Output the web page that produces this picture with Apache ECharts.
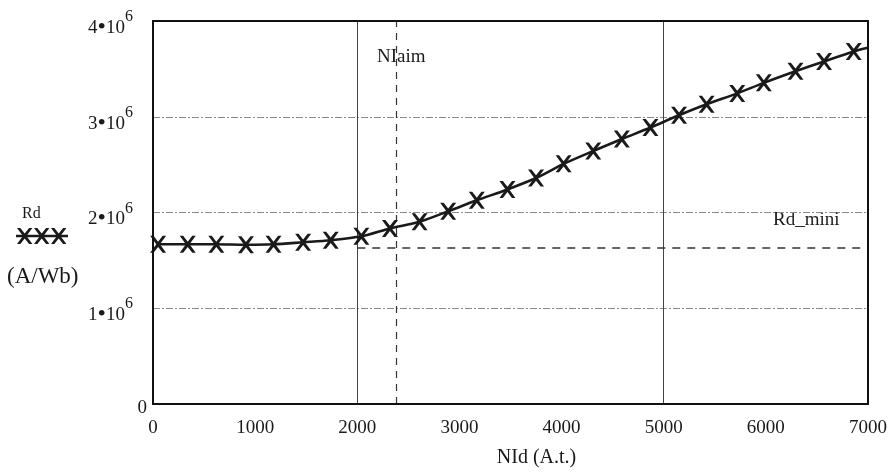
<!DOCTYPE html>
<html><head><meta charset="utf-8">
<script src="https://cdn.jsdelivr.net/npm/echarts@6/dist/echarts.min.js"></script>
<style>html,body{margin:0;padding:0;background:#fff}#c{width:895px;height:473px}</style>
</head><body><div id="c"></div>
<script>
// Data
const nid = [50, 340, 620, 910, 1180, 1470, 1740, 2040, 2320, 2610, 2890, 3170, 3470, 3750, 4020, 4310, 4590, 4870, 5150, 5420, 5720, 5980, 6290, 6570, 6860];
const rd = [1.668e6, 1.668e6, 1.668e6, 1.663e6, 1.668e6, 1.689e6, 1.71e6, 1.751e6, 1.834e6, 1.904e6, 2.013e6, 2.127e6, 2.241e6, 2.36e6, 2.508e6, 2.642e6, 2.767e6, 2.888e6, 3.016e6, 3.13e6, 3.244e6, 3.354e6, 3.475e6, 3.578e6, 3.682e6];
const lineEnd = [7000, 3.72e6];
const xTicks = [0, 1000, 2000, 3000, 4000, 5000, 6000, 7000];
const yTickLabels = ['0', '1', '2', '3', '4'];
const refVertical = [2000, 5000];
const nIaim = 2380;
const rdMini = 1.637e6;
const rdMiniStart = 2000;

const serif = '"Liberation Serif", "DejaVu Serif", serif';
const ink = '#1a1a1a';
const xSym = 'path://M0,0 L3,0 L7,5.5 L11,0 L14,0 L8.6,8 L14,16 L11,16 L7,10.5 L3,16 L0,16 L5.4,8 Z';
const xPoly = [[0,0],[3,0],[7,5.5],[11,0],[14,0],[8.6,8],[14,16],[11,16],[7,10.5],[3,16],[0,16],[5.4,8]];

const chart = echarts.init(document.getElementById('c'));
const pts = nid.map((x, i) => [x, rd[i]]);
chart.setOption({
  animation: false,
  backgroundColor: '#fff',
  grid: { left: 153, right: 27, top: 21, bottom: 66, show: true, borderColor: '#111', borderWidth: 2, backgroundColor: 'transparent', z: 10 },
  xAxis: {
    type: 'value', min: 0, max: 7000, interval: 1000,
    name: 'NId (A.t.)', nameLocation: 'middle', nameGap: 44,
    nameTextStyle: { fontFamily: serif, fontSize: 20, color: ink, padding: [0, 0, 0, 52] },
    axisLine: { show: true, lineStyle: { color: '#111', width: 2 } },
    axisTick: { show: false },
    splitLine: { show: false },
    axisLabel: { fontFamily: serif, fontSize: 19, color: ink, margin: 15, formatter: v => xTicks.includes(v) ? String(v) : '' }
  },
  yAxis: {
    type: 'value', min: 0, max: 4e6, interval: 1e6,
    axisLine: { show: true, lineStyle: { color: '#111', width: 2 } },
    axisTick: { show: false },
    splitLine: { show: true, lineStyle: { color: '#8a8a8a', width: 1, type: [7, 2, 2, 2] } },
    axisLabel: {
      margin: 6,
      formatter: function (v) {
        const k = Math.round(v / 1e6);
        if (k === 0) return '{z|0}';
        return '{a|' + yTickLabels[k] + '}{b|•}{a|10}{s|6}';
      },
      rich: {
        z: { fontFamily: serif, fontSize: 19, color: ink, padding: [8, 0, 0, 0] },
        a: { fontFamily: serif, fontSize: 19, color: ink, padding: [14, 0, 0, 0] },
        b: { fontFamily: serif, fontSize: 24, color: ink, padding: [13, 0, 0, 0] },
        s: { fontFamily: serif, fontSize: 16, color: ink, padding: [0, 14, 8, 0] }
      }
    }
  },
  series: [
    {
      type: 'line',
      data: pts.concat([lineEnd]),
      smooth: 0.3,
      showSymbol: false,
      lineStyle: { color: ink, width: 2.6 },
      z: 5,
      markLine: {
        silent: true, symbol: 'none',
        label: { show: false },
        data: [
          ...refVertical.map(v => ({ xAxis: v, lineStyle: { color: '#444', width: 1, type: 'solid' } })),
          { xAxis: nIaim, lineStyle: { color: '#333', width: 1.2, type: [7, 6] } },
          [{ coord: [rdMiniStart, rdMini], lineStyle: { color: '#333', width: 1.6, type: [8, 7] } }, { coord: [7000, rdMini] }]
        ]
      }
    },
    {
      type: 'scatter',
      data: pts,
      symbol: xSym,
      symbolSize: [16, 17],
      itemStyle: { color: ink, opacity: 1 },
      z: 6
    }
  ],
  graphic: [
    { type: 'text', x: 377, y: 48, style: { text: 'NIaim', font: '19px ' + serif, fill: ink } },
    { type: 'text', x: 771, y: 211, style: { text: 'Rd_mini', font: '19px ' + serif, fill: ink, backgroundColor: '#fff', padding: [0, 2, 0, 2] } },
    { type: 'text', x: 22, y: 206, style: { text: 'Rd', font: '16px ' + serif, fill: ink } },
    { type: 'text', x: 7, y: 265, style: { text: '(A/Wb)', font: '23px ' + serif, fill: ink } },
    { type: 'line', shape: { x1: 16, y1: 236, x2: 68, y2: 236 }, style: { stroke: ink, lineWidth: 2.5 } },
    ...[0, 1, 2].map(i => ({ type: 'polygon', shape: { points: xPoly }, x: 17 + i * 17, y: 228, scaleX: 1.1, style: { fill: ink } }))
  ]
});
</script></body></html>
